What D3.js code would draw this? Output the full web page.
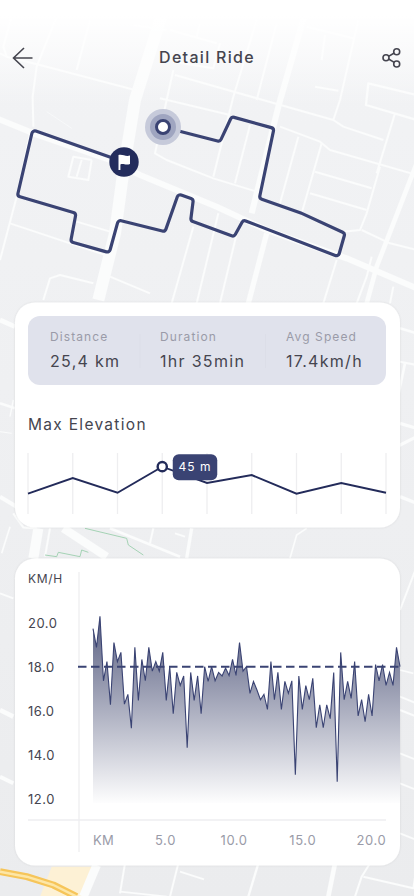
<!DOCTYPE html>
<html><head><meta charset="utf-8">
<script src="https://cdn.jsdelivr.net/npm/d3@7/dist/d3.min.js"></script>
<style>
html,body{margin:0;padding:0;background:#eef0f2;overflow:hidden}
svg{display:block}
text{font-family:Inter,"Noto Sans",sans-serif}
</style></head><body>
<svg id="c" width="414" height="896"></svg>
<script>
// ---- chart data ----
const title = "Detail Ride";
const statLabels = ["Distance","Duration","Avg Speed"];
const statValues = ["25,4 km","1hr 35min","17.4km/h"];
const elevationValues = [19.3,34.2,20.2,45,29.5,37,19.3,29.5,20.2];
const elevationPeakIndex = 3;
const elevationTitle = "Max Elevation";
const speedValues = [19.73,18.88,20.29,17.36,18.23,16.27,19.1,18.23,18.65,16.3,16.74,15.2,18.88,16.47,18.33,17.36,18.88,17.8,18.23,17.8,18.65,16.47,18,15.86,17.74,17.15,17.58,14.32,17.74,16.47,17.58,15.86,18,17.33,18,17.36,17.74,17.58,17.94,17.6,18.33,17.6,19.1,17.8,18,16.79,17.33,16.94,16.5,16.74,16.06,18.23,16.5,17.74,16.06,17.33,16.79,17.36,13.09,17.58,16.06,17.14,16.5,17.47,15.23,16.27,15.23,16.27,15.64,17.74,12.77,18.65,16.5,17.33,16.56,18.23,15.76,16.5,15.5,16.74,15.76,18.1,17.36,18.1,17.15,17.74,17.15,18.88,18];
const speedTicks = [12,14,16,18,20];
const kmTicks = [5,10,15,20];
const avgSpeed = 18;
// route, in map units
const routeX = [489,660,695,822,778,905,1035,1015,730,702,572,580,535,495,355,328,212,228,52,98,372];
const routeY = [381,425,350,385,595,640,700,770,660,710,662,598,582,695,660,758,725,640,588,390,486];
// streets of the base map, in map units: [width, x,y, x,y, ...]
const streets = [
[36,490,30,405,300,372,500,345,700,295,900],
[18,-10,355,100,400,330,480,420,525,650,620,800,690,1040,775,1250,865],
[18,915,40,835,320,755,640],[16,800,700,745,910],[14,1250,490,1130,800,1100,910],
[6,520,210,500,300,465,460,500,480,640,535,770,575],[6,480,295,690,345],
[6,525,225,1000,360,1030,380,1150,420],[6,840,380,960,425,990,450,1250,525],
[6,770,60,700,290,640,530],[6,830,70,770,300],[6,750,375,705,550],[6,895,410,840,610],[6,965,430,905,640],
[6,945,515,1115,565],[6,930,580,1100,630],[6,1140,500,1100,640,1080,690,1030,695],[6,1085,690,1170,730,1250,750],
[6,1185,340,1130,520],[7,1250,285,1105,250,1098,315,1250,360],[6,1075,60,1020,300,1000,360],
[6,945,260,1015,272],[6,975,105,965,180],[6,920,80,1060,115],[6,0,160,20,170,120,195,405,270],
[6,170,50,110,200,98,290,100,380],[6,270,60,230,210],[6,40,30,10,140,20,170],[6,90,400,50,590,0,780],
[6,30,670,330,770],[6,230,665,330,695],[2,140,335,215,385],[6,275,480,265,540,205,530,220,470,275,480],[6,245,480,230,530],
[6,580,680,515,910],[6,655,640,590,910],[6,715,680,660,910],[6,130,900,150,835,180,825,280,850],[6,330,830,450,880],
[6,1010,780,970,910],[6,1115,770,1100,830,1070,910],[6,1180,860,1170,910],[6,510,90,650,130],[6,600,70,590,110],[6,660,130,640,205,520,185],[6,400,75,500,90],
[14,0,960,45,980],[8,0,1210,45,1225],[4,40,1200,30,1250],[3,0,1295,35,1300],[12,0,1490,50,1520],[7,40,1540,70,1582,110,1585],[5,30,1580,5,1660],
[8,1200,985,1250,1000],[6,1200,1085,1250,1095],[8,1215,1090,1190,1210],[10,1200,1270,1250,1285],[10,1190,1340,1250,1310],[10,1200,1490,1250,1510],
[30,115,1585,100,1675],[6,150,1585,135,1670],[25,190,1585,320,1670],[8,330,1585,540,1670],[6,460,1585,450,1630],[6,525,1600,555,1610],[10,575,1585,560,1675],[5,920,1585,890,1605,870,1675],[6,1250,1700,1200,1830],
[6,0,1780,40,1795],[14,0,2130,40,2150],[12,0,2330,40,2350],
[5,1200,2010,1240,2020],[6,1200,2090,1250,2110],[6,1200,2130,1250,2150],[6,1200,2260,1250,2280],[6,1200,2350,1250,2370],[6,1200,2500,1250,2520],
[26,290,2595,250,2690],[6,375,2590,360,2680],[5,360,2675,500,2690],[6,535,2590,510,2690],[6,540,2615,612,2638],[7,775,2590,745,2690],[14,1005,2590,985,2690],[6,1090,2630,1240,2665,1250,2600],[6,1110,2590,1085,2630,1065,2690]
];
const greenPaths = [[255,1585,380,1615,385,1635,430,1665],[135,1665,170,1670,175,1657,240,1670,245,1650,265,1657]];
const highway = [0,2615,80,2630,160,2655,230,2690];

// ---- layout ----
const svg = d3.select("#c");
const ink="#45454f", grey="#9a9ba8", navy="#3a4373", dark="#232b5a", rule="#eeeef0";
const defs = svg.append("defs");
const fade = defs.append("linearGradient").attr("id","topFade").attr("x1",0).attr("x2",0).attr("y1",0).attr("y2",1);
fade.append("stop").attr("offset",.15).attr("stop-color","#fff").attr("stop-opacity",1);
fade.append("stop").attr("offset",1).attr("stop-color","#fff").attr("stop-opacity",0);
const bg = defs.append("linearGradient").attr("id","bg").attr("x1",0).attr("x2",0).attr("y1",0).attr("y2",1);
bg.append("stop").attr("offset",0).attr("stop-color","#f2f3f5");
bg.append("stop").attr("offset",1).attr("stop-color","#ebecee");
const sh = defs.append("filter").attr("id","sh").attr("x","-5%").attr("y","-5%").attr("width","110%").attr("height","110%");
sh.append("feDropShadow").attr("dx",0).attr("dy",0).attr("stdDeviation",1.2).attr("flood-color","#000").attr("flood-opacity",.1);
const soft = defs.append("filter").attr("id","soft");
soft.append("feGaussianBlur").attr("stdDeviation",.35);
const areaG = defs.append("linearGradient").attr("id","areaG").attr("gradientUnits","userSpaceOnUse").attr("x1",0).attr("x2",0).attr("y1",617).attr("y2",805);
areaG.append("stop").attr("offset",0).attr("stop-color","#5a6082");
areaG.append("stop").attr("offset",1).attr("stop-color","#fff");

// base map
const mx = d3.scaleLinear().domain([0,1242]).range([0,414]);
const my = d3.scaleLinear().domain([0,2688]).range([0,896]);
svg.append("rect").attr("width",414).attr("height",896).attr("fill","url(#bg)");
const map = svg.append("g").attr("filter","url(#soft)").attr("fill","none").attr("stroke-linejoin","round").attr("stroke-linecap","butt");
const poly = a => { const p=d3.path(); for(let i=0;i<a.length;i+=2){ i?p.lineTo(mx(a[i]),my(a[i+1])):p.moveTo(mx(a[i]),my(a[i+1])); } return p.toString(); };
const beige=[155,2600,275,2600,250,2690,120,2690];
map.append("path").attr("d",poly(beige)+"Z").attr("fill","#fdf1d5");
map.selectAll(".st").data(streets).join("path").attr("d",s=>poly(s.slice(1))).attr("stroke","#fbfcfc").attr("stroke-width",s=>s[0]/3);
map.selectAll(".gr").data(greenPaths).join("path").attr("d",poly).attr("stroke","#9ccfae").attr("stroke-width",.9);
map.append("path").attr("d",poly(highway)).attr("stroke","#f6c55a").attr("stroke-width",7);
map.append("path").attr("d",poly(highway)).attr("stroke","#fde6a6").attr("stroke-width",2.5);
svg.append("rect").attr("width",414).attr("height",105).attr("fill","url(#topFade)");

// route
const rp = d3.path();
routeX.forEach((x,i)=>{
  const X=mx(x),Y=mx(routeY[i]);
  if(i===0) rp.moveTo(X,Y);
  else if(i===routeX.length-1) rp.lineTo(X,Y);
  else rp.arcTo(X,Y,mx(routeX[i+1]),mx(routeY[i+1]),3);
});
svg.append("path").attr("d",rp.toString()).attr("fill","none").attr("stroke",navy).attr("stroke-width",3.2).attr("stroke-linejoin","round");
const sx=mx(routeX[0]), sy=mx(routeY[0]), ex=mx(routeX[routeX.length-1]), ey=mx(routeY[routeY.length-1]);
svg.append("circle").attr("cx",sx).attr("cy",sy).attr("r",18).attr("fill","#c6cada");
svg.append("circle").attr("cx",sx).attr("cy",sy).attr("r",13).attr("fill","#9fa5c0");
svg.append("circle").attr("cx",sx).attr("cy",sy).attr("r",6.5).attr("fill","#fff").attr("stroke",navy).attr("stroke-width",3);
svg.append("circle").attr("cx",ex).attr("cy",ey).attr("r",14.7).attr("fill","#232c5c");
svg.append("path").attr("transform",`translate(${ex},${ey})`)
  .attr("d","M-5.5,-7 L-5.5,8 L-3.6,8 L-3.6,2.5 C-1,1 1.5,3.5 6,2 L6,-6.5 C1.5,-5 -1,-8 -5.5,-7 Z").attr("fill","#fff");

// header
svg.append("text").attr("x",207).attr("y",63).attr("text-anchor","middle").attr("font-size",16).attr("font-weight",500).attr("letter-spacing",1.3).attr("fill",ink).text(title);
svg.append("path").attr("d","M32.5,58 H13.5 M24,48 L13.5,58 L24,68").attr("fill","none").attr("stroke",ink).attr("stroke-width",1.6);
const share = svg.append("g").attr("fill","none").attr("stroke",ink).attr("stroke-width",1.6);
share.append("path").attr("d","M388.6,56.4 L394.2,53 M388.6,59 L394.2,62.4");
[[396.7,51.7],[386,57.7],[396.7,64]].forEach(c=>share.append("circle").attr("cx",c[0]).attr("cy",c[1]).attr("r",3));

// cards
const card=(y,h)=>svg.append("rect").attr("x",15).attr("y",y).attr("width",385).attr("height",h).attr("rx",20).attr("fill","#fff").attr("filter","url(#sh)");
card(302.5,225); card(558.5,307);

// stats
svg.append("rect").attr("x",28).attr("y",316).attr("width",358).attr("height",69).attr("rx",12).attr("fill","#e0e2ec");
[140,265.5].forEach(x=>svg.append("line").attr("x1",x).attr("x2",x).attr("y1",334).attr("y2",368).attr("stroke","#dcdee8"));
const statX=[50,160,286];
svg.selectAll(".sl").data(statLabels).join("text").attr("x",(d,i)=>statX[i]).attr("y",341).attr("font-size",12).attr("letter-spacing",1.1).attr("fill",grey).text(d=>d);
svg.selectAll(".sv").data(statValues).join("text").attr("x",(d,i)=>statX[i]).attr("y",367).attr("font-size",16).attr("letter-spacing",1.3).attr("fill",ink).text(d=>d);

// elevation
svg.append("text").attr("x",28).attr("y",430).attr("font-size",15.5).attr("letter-spacing",1.3).attr("fill",ink).text(elevationTitle);
const ex2 = d3.scaleLinear().domain([0,elevationValues.length-1]).range([28,386]);
const ey2 = d3.scaleLinear().domain([0,58]).range([514,453]);
svg.selectAll(".eg").data(elevationValues).join("line").attr("x1",(d,i)=>ex2(i)).attr("x2",(d,i)=>ex2(i)).attr("y1",ey2(58)).attr("y2",ey2(0)).attr("stroke",rule).attr("stroke-width",1.3);
svg.append("path").datum(elevationValues).attr("d",d3.line().x((d,i)=>ex2(i)).y(d=>ey2(d))).attr("fill","none").attr("stroke",dark).attr("stroke-width",1.9);
const px=ex2(elevationPeakIndex), py=ey2(elevationValues[elevationPeakIndex]);
svg.append("circle").attr("cx",px).attr("cy",py).attr("r",4.6).attr("fill","#fff").attr("stroke",dark).attr("stroke-width",2.4);
svg.append("rect").attr("x",px+10.5).attr("y",py-12.5).attr("width",44.5).attr("height",26).attr("rx",6).attr("fill",navy);
svg.append("text").attr("x",px+32.7).attr("y",py+4.5).attr("text-anchor","middle").attr("font-size",12).attr("letter-spacing",1).attr("fill","#fff").text(elevationValues[elevationPeakIndex]+" m");

// speed chart
const xi = d3.scaleLinear().domain([0,speedValues.length-1]).range([93,400]);
const km = d3.scaleLinear().domain([-0.24,22.12]).range([93,400]);
const y = d3.scaleLinear().domain([12,20]).range([798.7,622.7]);
svg.append("line").attr("x1",79).attr("x2",79).attr("y1",572).attr("y2",852).attr("stroke",rule).attr("stroke-width",1.3);
svg.append("line").attr("x1",28).attr("x2",386).attr("y1",820).attr("y2",820).attr("stroke",rule).attr("stroke-width",1.3);
svg.append("path").datum(speedValues).attr("d",d3.area().x((d,i)=>xi(i)).y0(y(11.8)).y1(d=>y(d))).attr("fill","url(#areaG)");
svg.append("path").datum(speedValues).attr("d",d3.line().x((d,i)=>xi(i)).y(d=>y(d))).attr("fill","none").attr("stroke",navy).attr("stroke-width",1.1);
svg.append("line").attr("x1",78).attr("x2",400).attr("y1",y(avgSpeed)).attr("y2",y(avgSpeed)).attr("stroke",navy).attr("stroke-width",2).attr("stroke-dasharray","8.5 4.5");
svg.append("text").attr("x",28).attr("y",583).attr("font-size",12).attr("letter-spacing",.7).attr("fill",ink).text("KM/H");
const yAxis = svg.append("g").attr("transform","translate(28,0)").call(d3.axisLeft(y).tickValues(speedTicks).tickFormat(d3.format(".1f")).tickSize(0));
yAxis.select(".domain").remove();
yAxis.selectAll("text").attr("x",0).attr("dy",null).attr("y",5).attr("text-anchor","start").attr("font-size",13).attr("letter-spacing",.5).attr("fill",ink).style("font-family","Inter");
const xAxis = svg.append("g").attr("transform","translate(0,845)").call(d3.axisBottom(km).tickValues(kmTicks).tickFormat(d3.format(".1f")).tickSize(0));
xAxis.select(".domain").remove();
xAxis.selectAll("text").attr("y",0).attr("dy",null).attr("font-size",13).attr("letter-spacing",.6).attr("fill",grey).style("font-family","Inter");
svg.append("text").attr("x",93).attr("y",845).attr("font-size",13).attr("letter-spacing",.2).attr("fill",grey).text("KM");
</script>
</body></html>
